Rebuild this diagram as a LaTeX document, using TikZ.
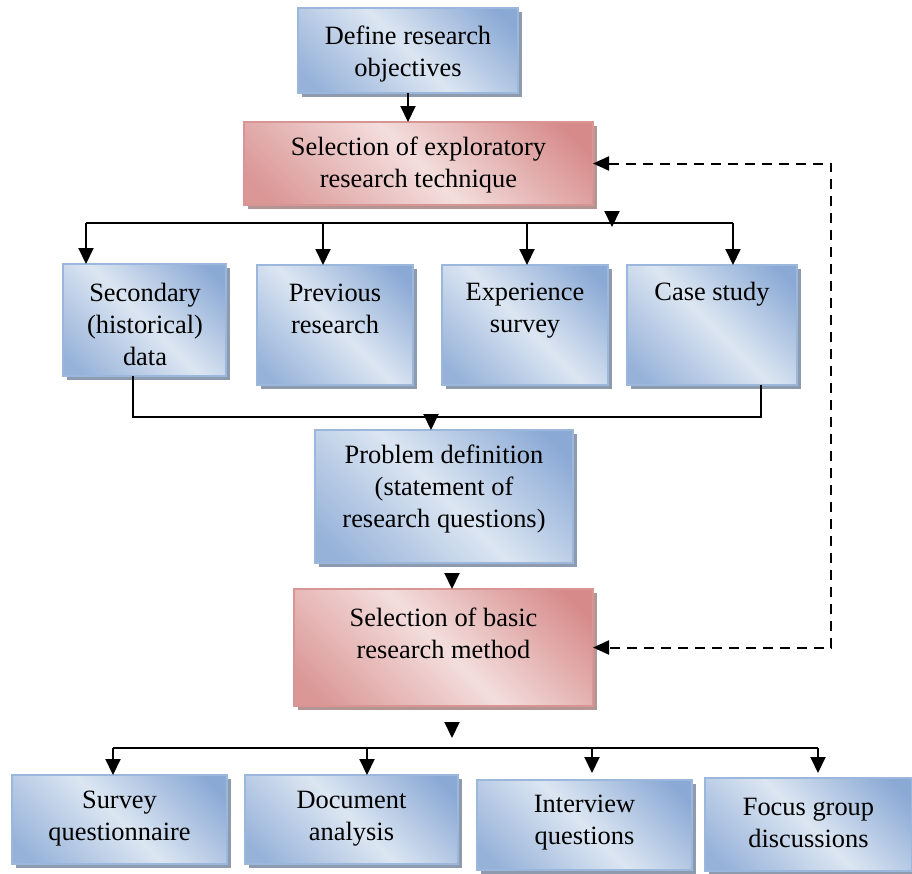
\documentclass[tikz,border=0pt]{standalone}
\usepackage{fontspec}
\setmainfont{Liberation Serif}
\usetikzlibrary{arrows.meta,shadows}

% palette
\definecolor{bdk}{HTML}{8AA9D5}
\definecolor{blt}{HTML}{DCE6F2}
\definecolor{bbd}{HTML}{9BB7DB}
\definecolor{bsh}{HTML}{8E9AAD}
\definecolor{rdk}{HTML}{D68B8A}
\definecolor{rlt}{HTML}{F3DEDD}
\definecolor{rbd}{HTML}{D99594}
\definecolor{rsh}{HTML}{B39594}

% diagonal fills: darker towards the upper right and lower left corners
\pgfdeclarehorizontalshading{bluefill}{100bp}{color(0bp)=(bdk!85!blt); color(20bp)=(bdk!85!blt); color(50bp)=(blt); color(80bp)=(bdk); color(100bp)=(bdk)}
\pgfdeclarehorizontalshading{redfill}{100bp}{color(0bp)=(rdk!85!rlt); color(20bp)=(rdk!85!rlt); color(50bp)=(rlt); color(80bp)=(rdk); color(100bp)=(rdk)}

\tikzset{
  boxbase/.style={rectangle, inner sep=0pt, outer sep=0pt, line width=0.9pt, shading angle=45},
  bluebox/.style={boxbase, draw=bbd, shading=bluefill,
    drop shadow={shadow xshift=2pt, shadow yshift=-2pt, fill=bsh, opacity=1}},
  redbox/.style={boxbase, draw=rbd, shading=redfill,
    drop shadow={shadow xshift=2pt, shadow yshift=-2pt, fill=rsh, opacity=1}},
  txt/.style={align=center, inner sep=0pt, font=\fontsize{13.2}{16}\selectfont},
  link/.style={line width=1pt, black},
  arr/.style={link, -{Triangle[length=8pt,width=7.5pt]}},
  back/.style={link, dash pattern=on 5pt off 3.5pt,
    {Triangle[length=8pt,width=7pt]}-{Triangle[length=8pt,width=7pt]}}
}

\begin{document}
\begin{tikzpicture}[x=0.5pt, y=-0.5pt]
\useasboundingbox (0,0) rectangle (912,874);

% ---- boxes ----
\node[bluebox, minimum width=110pt, minimum height=42.5pt] (T) at (408,50.5) {};
\node[redbox, minimum width=174.5pt, minimum height=41.5pt] (R1) at (418.5,163.5) {};

\node[bluebox, minimum width=81.5pt, minimum height=56pt] (A) at (144.5,320) {};
\node[bluebox, minimum width=78pt, minimum height=60pt] (B) at (335,325) {};
\node[bluebox, minimum width=83pt, minimum height=60pt] (C) at (525,325) {};
\node[bluebox, minimum width=85pt, minimum height=60pt] (D) at (712,325) {};

\node[bluebox, minimum width=129pt, minimum height=66.5pt] (P) at (444,496.5) {};
\node[redbox, minimum width=149.5pt, minimum height=58.5pt] (R2) at (443.5,647.5) {};

\node[bluebox, minimum width=107.5pt, minimum height=44.5pt] (S1) at (119.5,819.5) {};
\node[bluebox, minimum width=106.5pt, minimum height=44.5pt] (S2) at (351.5,819.5) {};
\node[bluebox, minimum width=107.5pt, minimum height=45pt] (S3) at (584.5,825) {};
\node[bluebox, minimum width=103.5pt, minimum height=46.5pt] (S4) at (808.5,824.5) {};

% ---- labels ----
\node[txt] (tT) at (408,54) {Define research\\objectives};
\node[txt] (tR1) at (418.5,165) {Selection of exploratory\\research technique};
\node[txt] (tA) at (145,324) {Secondary\\(historical)\\data};
\node[txt] (tB) at (335,309) {Previous\\research};
\node[txt] (tC) at (525,311) {Experience\\survey};
\node[txt] (tD) at (712,294) {Case study};
\node[txt] (tP) at (444,489.5) {Problem definition\\(statement of\\research questions)};
\node[txt] (tR2) at (443.5,633.5) {Selection of basic\\research method};
\node[txt] (tS1) at (119.5,819) {Survey\\questionnaire};
\node[txt] (tS2) at (351.5,819) {Document\\analysis};
\node[txt] (tS3) at (584.5,823) {Interview\\questions};
\node[txt] (tS4) at (808.5,823) {Focus group\\discussions};

% ---- connector points ----
\coordinate (a1) at (86,223);
\coordinate (a2) at (323,223);
\coordinate (a3) at (527,223);
\coordinate (a4) at (733,223);
\coordinate (f1) at (612,211);
\coordinate (m1) at (133,417);
\coordinate (m2) at (761,417);
\coordinate (mp) at (431,417);
\coordinate (pq) at (452,574);
\coordinate (f2) at (452,722);
\coordinate (c1) at (113,748);
\coordinate (c2) at (367,748);
\coordinate (c3) at (592,748);
\coordinate (c4) at (818,748);
\coordinate (dx) at (831,0);

% ---- connectors ----
\draw[arr] (T.south) -- (T.south |- R1.north);

\draw[link] (a1) -- (a4);
\draw[arr] (f1) -- ++(0,16);
\draw[arr] (a1) -- (a1 |- A.north);
\draw[arr] (a2) -- (a2 |- B.north);
\draw[arr] (a3) -- (a3 |- C.north);
\draw[arr] (a4) -- (a4 |- D.north);

\draw[link] (m1 |- A.south) -- (m1) -- (m2) -- (m2 |- D.south);
\draw[arr] (mp) -- (mp |- P.north);

\draw[arr] (pq) -- (pq |- R2.north);

\draw[arr] (f2) -- ++(0,16);
\draw[link] (c1) -- (c4);
\draw[arr] (c1) -- (c1 |- S1.north);
\draw[arr] (c2) -- (c2 |- S2.north);
\draw[arr, shorten >=3.5pt] (c3) -- (c3 |- S3.north);
\draw[arr, shorten >=2.5pt] (c4) -- (c4 |- S4.north);

\draw[back] (R1.east) -- (R1.east -| dx) -- (R2.east -| dx) -- (R2.east);
\end{tikzpicture}
\end{document}
